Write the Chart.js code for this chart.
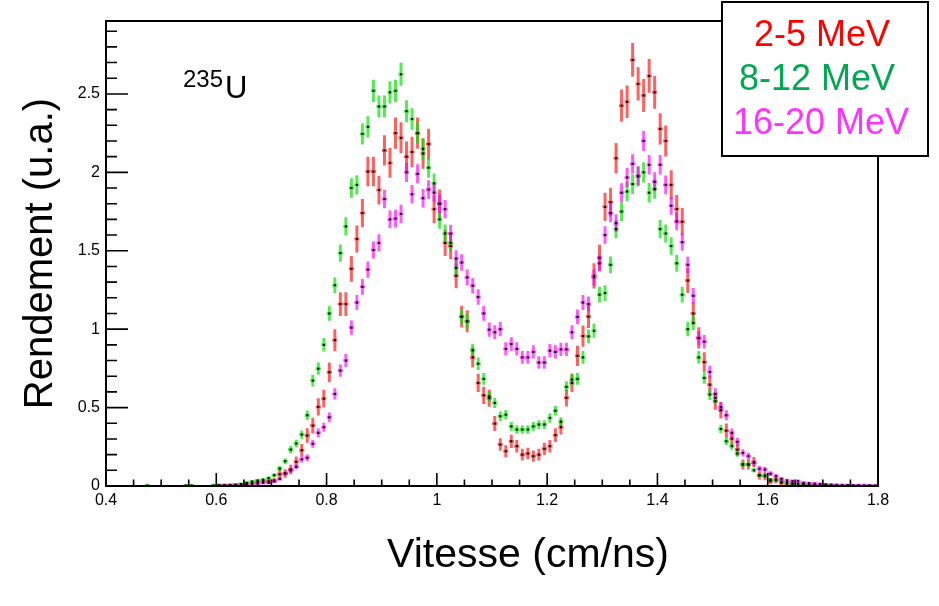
<!DOCTYPE html>
<html><head><meta charset="utf-8">
<script src="https://cdn.jsdelivr.net/npm/chart.js@4/dist/chart.umd.min.js"></script>
<style>html,body{margin:0;padding:0;background:#fff}#wrap{width:939px;height:606px;position:relative}</style>
</head><body><div id="wrap"><canvas id="c"></canvas></div>
<script>
// ---- DATA ----
const bins = [
0.465,0.475,0.485,0.495,0.505,0.515,0.525,0.535,0.545,0.555,
0.565,0.575,0.585,0.595,0.605,0.615,0.625,0.635,0.645,0.655,
0.665,0.675,0.685,0.695,0.705,0.715,0.725,0.735,0.745,0.755,
0.765,0.775,0.785,0.795,0.805,0.815,0.825,0.835,0.845,0.855,
0.865,0.875,0.885,0.895,0.905,0.915,0.925,0.935,0.945,0.955,
0.965,0.975,0.985,0.995,1.005,1.015,1.025,1.035,1.045,1.055,
1.065,1.075,1.085,1.095,1.105,1.115,1.125,1.135,1.145,1.155,
1.165,1.175,1.185,1.195,1.205,1.215,1.225,1.235,1.245,1.255,
1.265,1.275,1.285,1.295,1.305,1.315,1.325,1.335,1.345,1.355,
1.365,1.375,1.385,1.395,1.405,1.415,1.425,1.435,1.445,1.455,
1.465,1.475,1.485,1.495,1.505,1.515,1.525,1.535,1.545,1.555,
1.565,1.575,1.585,1.595,1.605,1.615,1.625,1.635,1.645,1.655,
1.665,1.675,1.685,1.695,1.705,1.715,1.725,1.735,1.745,1.755,
1.765,1.775,1.785,1.795];

const seriesLabels = ['2-5 MeV','8-12 MeV','16-20 MeV'];

const yield_2_5 = [
null,null,null,null,null,null,null,null,null,null,
null,null,null,null,0.004,0.004,0.005,0.006,0.008,0.015,
0.02,0.025,0.03,0.03,0.035,0.075,0.08,0.105,0.154,0.228,
0.322,0.385,0.504,0.557,0.725,0.93,1.16,1.16,1.385,1.575,
1.74,2.005,2.005,1.887,2.14,2.06,2.25,2.22,2.10,2.13,
2.25,2.12,2.18,1.765,1.80,1.55,1.53,1.34,1.08,1.05,
0.82,0.657,0.578,0.56,0.398,0.264,0.222,0.285,0.254,0.20,
0.207,0.19,0.20,0.237,0.254,0.324,0.375,0.562,0.657,0.83,
0.956,1.08,1.34,1.455,1.78,1.81,2.09,2.425,2.45,2.717,
2.564,2.49,2.615,2.51,2.277,2.20,1.92,1.766,1.685,1.31,
1.10,0.944,0.79,0.646,0.54,0.483,0.353,0.302,0.232,0.137,
0.137,0.152,0.067,0.062,0.031,0.04,0.02,0.015,0.012,0.01,
0.008,0.006,0.005,0.004,0.004,0.003,null,null,null,null,
null,null,null,null];
const err_2_5 = [
null,null,null,null,null,null,null,null,null,null,
null,null,null,null,0.006,0.006,0.006,0.007,0.008,0.012,
0.013,0.014,0.015,0.015,0.016,0.026,0.027,0.03,0.034,0.04,
0.046,0.05,0.055,0.057,0.063,0.07,0.076,0.076,0.082,0.086,
0.09,0.094,0.094,0.092,0.097,0.095,0.1,0.099,0.097,0.097,
0.1,0.097,0.098,0.09,0.09,0.084,0.084,0.079,0.07,0.07,
0.064,0.058,0.055,0.054,0.048,0.04,0.038,0.042,0.04,0.037,
0.037,0.036,0.037,0.039,0.04,0.044,0.047,0.055,0.058,0.065,
0.068,0.072,0.08,0.083,0.09,0.091,0.097,0.103,0.104,0.108,
0.106,0.105,0.107,0.105,0.1,0.099,0.093,0.09,0.088,0.079,
0.073,0.068,0.063,0.058,0.054,0.052,0.046,0.043,0.039,0.032,
0.032,0.033,0.025,0.025,0.02,0.022,0.015,0.013,0.012,0.011,
0.01,0.009,0.008,0.007,0.007,0.006,null,null,null,null,
null,null,null,null];

const yield_8_12 = [
null,0.003,null,null,null,null,null,null,0.003,0.003,
null,null,null,0.004,0.005,0.005,0.006,0.008,0.012,0.02,
0.028,0.035,0.04,0.05,0.069,0.111,0.158,0.232,0.271,0.328,
0.451,0.672,0.748,0.90,1.10,1.28,1.485,1.655,1.90,1.92,
2.245,2.29,2.52,2.42,2.42,2.51,2.52,2.625,2.39,2.34,
2.25,2.15,2.03,1.93,1.70,1.61,1.55,1.39,1.078,1.05,
0.865,0.78,0.683,0.572,0.53,0.445,0.455,0.38,0.36,0.36,
0.36,0.38,0.392,0.392,0.434,0.48,0.41,0.632,0.678,0.683,
0.82,0.954,0.99,1.22,1.23,1.41,1.638,1.75,1.878,1.925,
1.973,2.0,1.87,1.893,1.638,1.61,1.53,1.42,1.22,1.00,
1.04,0.82,0.689,0.583,0.562,0.364,0.285,0.254,0.207,0.137,
0.137,0.10,0.069,0.067,0.041,0.036,0.028,0.02,0.015,0.012,
0.01,0.008,0.006,0.005,0.004,0.004,0.003,null,0.003,null,
0.002,null,0.002,null];
const err_8_12 = [
null,0.004,null,null,null,null,null,null,0.004,0.004,
null,null,null,0.004,0.004,0.004,0.004,0.005,0.006,0.008,
0.008,0.009,0.01,0.011,0.013,0.016,0.019,0.023,0.024,0.026,
0.03,0.037,0.039,0.043,0.047,0.05,0.055,0.058,0.062,0.062,
0.067,0.068,0.071,0.07,0.07,0.071,0.071,0.073,0.07,0.069,
0.068,0.066,0.064,0.063,0.059,0.058,0.056,0.053,0.047,0.046,
0.042,0.04,0.037,0.034,0.033,0.03,0.03,0.028,0.027,0.027,
0.027,0.028,0.028,0.028,0.03,0.031,0.029,0.036,0.037,0.037,
0.041,0.044,0.045,0.05,0.05,0.053,0.058,0.06,0.062,0.063,
0.063,0.064,0.062,0.062,0.058,0.057,0.056,0.054,0.05,0.045,
0.046,0.041,0.037,0.034,0.034,0.027,0.024,0.023,0.02,0.017,
0.017,0.014,0.012,0.012,0.009,0.009,0.008,0.007,0.006,0.006,
0.005,0.004,0.004,0.004,0.004,0.004,0.003,null,0.003,null,
0.003,null,0.003,null];

const yield_16_20 = [
null,null,null,null,null,null,null,null,null,null,
null,null,null,null,null,0.003,0.004,0.005,0.006,0.008,
0.01,0.015,0.02,0.02,0.03,0.045,0.08,0.10,0.122,0.17,
0.18,0.269,0.339,0.375,0.438,0.587,0.736,0.80,1.01,1.17,
1.27,1.38,1.505,1.55,1.83,1.70,1.705,1.735,2.0,1.86,
1.99,1.835,1.89,1.87,1.80,1.765,1.61,1.45,1.425,1.33,
1.277,1.205,1.10,0.997,0.98,1.00,0.874,0.905,0.874,0.82,
0.82,0.855,0.787,0.787,0.863,0.855,0.871,0.871,0.98,1.078,
1.17,1.16,1.33,1.42,1.60,1.74,1.676,1.87,1.967,2.054,
1.978,2.20,2.048,1.94,2.048,1.92,1.787,1.687,1.555,1.41,
1.213,0.944,0.92,0.727,0.587,0.502,0.451,0.339,0.282,0.211,
0.19,0.148,0.11,0.105,0.078,0.062,0.045,0.035,0.03,0.03,
0.02,0.018,0.015,0.012,0.01,0.008,0.007,0.006,0.005,0.005,
0.004,0.004,0.003,0.003];
const err_16_20 = [
null,null,null,null,null,null,null,null,null,null,
null,null,null,null,null,0.004,0.004,0.004,0.004,0.005,
0.005,0.006,0.007,0.007,0.009,0.011,0.014,0.016,0.017,0.02,
0.021,0.025,0.028,0.029,0.031,0.036,0.039,0.041,0.045,0.048,
0.05,0.052,0.054,0.055,0.059,0.057,0.057,0.058,0.061,0.059,
0.061,0.059,0.06,0.06,0.059,0.058,0.056,0.053,0.053,0.051,
0.05,0.049,0.047,0.045,0.045,0.045,0.042,0.043,0.042,0.041,
0.041,0.042,0.04,0.04,0.042,0.042,0.042,0.042,0.045,0.047,
0.048,0.048,0.051,0.053,0.056,0.058,0.057,0.06,0.061,0.062,
0.061,0.064,0.062,0.061,0.062,0.06,0.058,0.057,0.055,0.052,
0.049,0.044,0.043,0.039,0.036,0.033,0.032,0.028,0.026,0.023,
0.022,0.02,0.018,0.018,0.016,0.015,0.013,0.012,0.011,0.011,
0.01,0.009,0.009,0.008,0.007,0.007,0.006,0.006,0.005,0.005,
0.005,0.005,0.004,0.004];

const xTickValues = [0.4,0.6,0.8,1.0,1.2,1.4,1.6,1.8];
const xTickLabels = ['0.4','0.6','0.8','1','1.2','1.4','1.6','1.8'];
const xMinorTicks = [0.45,0.5,0.55,0.65,0.7,0.75,0.85,0.9,0.95,1.05,1.1,1.15,1.25,1.3,1.35,1.45,1.5,1.55,1.65,1.7,1.75];
const yTickValues = [0,0.5,1,1.5,2,2.5];
const yTickLabels = ['0','0.5','1','1.5','2','2.5'];
const yMinorTicks = [0.1,0.2,0.3,0.4,0.6,0.7,0.8,0.9,1.1,1.2,1.3,1.4,1.6,1.7,1.8,1.9,2.1,2.2,2.3,2.4,2.6,2.7,2.8,2.9];

// ---- STYLE ----
const FONT = "'Liberation Sans', Arial, Helvetica, sans-serif";
const barColors = ['rgba(255,0,0,0.62)','rgba(0,225,0,0.68)','rgba(255,0,255,0.65)'];
const textColors = ['#ff0000','#00a84f','#ff33ff'];
const seriesVals = [yield_2_5, yield_8_12, yield_16_20];
const seriesErrs = [err_2_5, err_8_12, err_16_20];

function toPoints(vals){
  const out=[];
  vals.forEach((v,i)=>{ if(v!==null) out.push({x:bins[i], y:v}); });
  return out;
}

const errorBars = {
  id:'errorBars',
  beforeDatasetsDraw(chart){
    const {ctx, chartArea:a, scales:{x,y}} = chart;
    ctx.save();
    ctx.beginPath(); ctx.rect(a.left,a.top,a.right-a.left,a.bottom-a.top); ctx.clip();
    ctx.lineCap='butt';
    seriesVals.forEach((vals,si)=>{
      ctx.strokeStyle = barColors[si];
      ctx.lineWidth = 3;
      vals.forEach((v,i)=>{
        if(v===null) return;
        const e = seriesErrs[si][i] || 0;
        const px = x.getPixelForValue(bins[i]);
        const py = y.getPixelForValue(v);
        const t = Math.min(y.getPixelForValue(v+e), py-1.5);
        const b = Math.max(y.getPixelForValue(v-e), py+1.5);
        ctx.beginPath();
        ctx.moveTo(px,t); ctx.lineTo(px,b);
        ctx.moveTo(px-2.6,py); ctx.lineTo(px+2.6,py);
        ctx.stroke();
      });
    });
    ctx.restore();
  }
};

const frameAndDecor = {
  id:'frameAndDecor',
  afterDraw(chart){
    const {ctx, chartArea:a, scales:{x,y}} = chart;
    ctx.save();
    // frame
    ctx.strokeStyle='#000'; ctx.lineWidth=2;
    ctx.strokeRect(a.left,a.top,a.right-a.left,a.bottom-a.top);
    // ticks (inward)
    ctx.lineWidth=1.6;
    ctx.beginPath();
    yTickValues.forEach(v=>{const p=y.getPixelForValue(v); ctx.moveTo(a.left,p); ctx.lineTo(a.left+22,p);});
    yMinorTicks.forEach(v=>{const p=y.getPixelForValue(v); ctx.moveTo(a.left,p); ctx.lineTo(a.left+11,p);});
    xTickValues.forEach(v=>{const p=x.getPixelForValue(v); ctx.moveTo(p,a.bottom); ctx.lineTo(p,a.bottom-13);});
    xMinorTicks.forEach(v=>{const p=x.getPixelForValue(v); ctx.moveTo(p,a.bottom); ctx.lineTo(p,a.bottom-6.5);});
    ctx.stroke();
    // x title
    ctx.fillStyle='#000';
    ctx.font = '41px '+FONT;
    ctx.textAlign='center'; ctx.textBaseline='alphabetic';
    ctx.fillText('Vitesse (cm/ns)', 528, 567);
    // nucleus label
    ctx.textAlign='left';
    ctx.font = '24px '+FONT;
    ctx.fillText('235', 183, 87);
    ctx.font = '31px '+FONT;
    ctx.fillText('U', 225, 98);
    // legend box
    ctx.fillStyle='#fff';
    ctx.fillRect(722,2,206,154);
    ctx.lineWidth=2; ctx.strokeStyle='#000';
    ctx.strokeRect(722,2,206,154);
    ctx.font='36px '+FONT;
    const lx=[754,739,733], ly=[46,90,134];
    chart.data.datasets.forEach((ds,i)=>{
      ctx.fillStyle=textColors[i];
      ctx.fillText(ds.label, lx[i], ly[i]);
    });
    ctx.restore();
  }
};

new Chart(document.getElementById('c'), {
  type:'scatter',
  data:{
    datasets: seriesLabels.map((lab,i)=>({
      label: lab,
      data: toPoints(seriesVals[i]),
      pointStyle:'rect',
      pointRadius:1.5,
      pointHoverRadius:1.5,
      backgroundColor:'#000',
      borderWidth:0,
      showLine:false
    }))
  },
  options:{
    responsive:true,
    maintainAspectRatio:false,
    animation:false,
    events:[],
    layout:{padding:{top:21,right:61,left:0,bottom:0}},
    plugins:{legend:{display:false}, tooltip:{enabled:false}},
    scales:{
      x:{
        type:'linear', min:0.4, max:1.8,
        afterBuildTicks(s){ s.ticks = xTickValues.map(v=>({value:v})); },
        afterFit(s){ s.height = 120; },
        ticks:{ padding:5, color:'#000', font:{family:FONT,size:16},
          maxRotation:0, autoSkip:false,
          callback:(v)=>{ const i=xTickValues.findIndex(t=>Math.abs(t-v)<1e-6); return i>=0?xTickLabels[i]:''; } },
        grid:{display:false, drawTicks:false},
        border:{display:false}
      },
      y:{
        type:'linear', min:0, max:2.965,
        afterBuildTicks(s){ s.ticks = yTickValues.map(v=>({value:v})); },
        afterFit(s){ s.width = 106; },
        ticks:{ padding:6, color:'#000', font:{family:FONT,size:16}, autoSkip:false,
          callback:(v)=>{ const i=yTickValues.findIndex(t=>Math.abs(t-v)<1e-6); return i>=0?yTickLabels[i]:''; } },
        grid:{display:false, drawTicks:false},
        border:{display:false},
        title:{display:true, text:'Rendement (u.a.)', color:'#000',
          font:{family:FONT,size:40}, padding:{top:17,bottom:0}}
      }
    }
  },
  plugins:[errorBars, frameAndDecor]
});
</script>
</body></html>
